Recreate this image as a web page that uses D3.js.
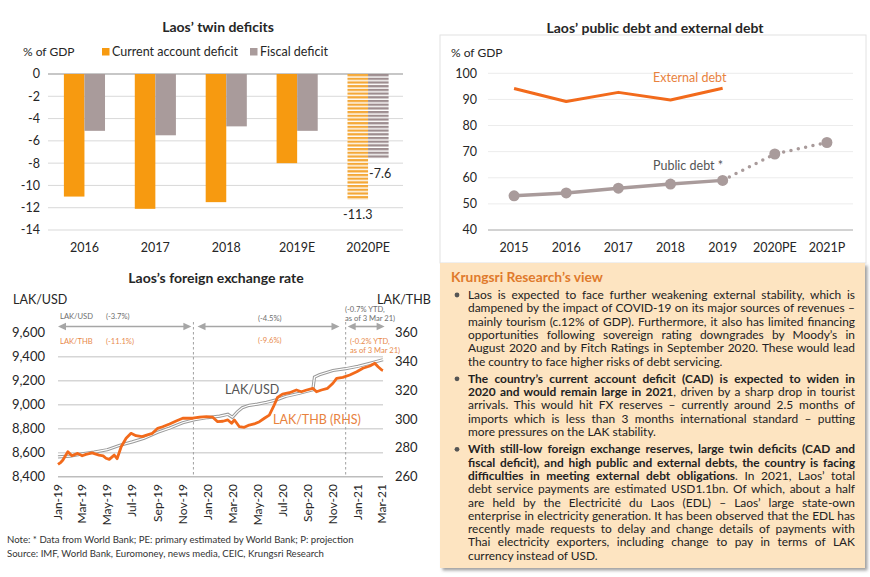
<!DOCTYPE html>
<html><head><meta charset="utf-8">
<script src="https://cdn.jsdelivr.net/npm/d3@7"></script>
<style>body{margin:0;background:#fff}svg{display:block}text{font-family:Lato,"Open Sans",sans-serif}</style>
</head><body><svg id="c" width="870" height="577"></svg>
<script>
// ---------- DATA ----------
const twinYears = ["2016","2017","2018","2019E","2020PE"];
const currentAccount = [-11.0,-12.1,-11.5,-8.0,-11.3];
const fiscalDeficit = [-5.1,-5.5,-4.7,-5.1,-7.6];
const twinTicks = [0,-2,-4,-6,-8,-10,-12,-14];

const debtYears = ["2015","2016","2017","2018","2019","2020PE","2021P"];
const externalDebt = [94.2,89.2,92.7,89.8,94.3];
const publicDebt = [53.1,54.2,56.0,57.6,59.0,69.1,73.5];
const debtTicks = [40,50,60,70,80,90,100];

const usdDates = ["2019-01-01","2019-01-30","2019-03-01","2019-03-30","2019-05-01","2019-05-30","2019-07-01","2019-07-30","2019-09-01","2019-09-30","2019-11-01","2019-11-30","2020-01-01","2020-01-30","2020-02-19","2020-03-01","2020-03-13","2020-03-25","2020-04-11","2020-05-01","2020-05-23","2020-06-16","2020-07-10","2020-08-11","2020-09-13","2020-09-17","2020-09-29","2020-11-01","2020-12-02","2021-01-01","2021-01-30","2021-03-03"];
const usdValues = [8565,8572,8590,8605,8625,8660,8690,8720,8770,8805,8850,8875,8893,8905,8920,8895,8940,8975,8995,9005,9020,9040,9070,9095,9125,9230,9250,9285,9300,9320,9345,9375];

const thbDates = ["2019-01-01","2019-01-08","2019-01-13","2019-01-25","2019-02-04","2019-02-18","2019-03-01","2019-03-10","2019-03-25","2019-04-11","2019-04-21","2019-04-28","2019-05-06","2019-05-18","2019-05-25","2019-06-04","2019-06-16","2019-06-28","2019-07-10","2019-07-25","2019-08-07","2019-08-19","2019-09-01","2019-09-13","2019-09-30","2019-10-16","2019-11-01","2019-11-25","2019-12-12","2019-12-29","2020-01-13","2020-01-25","2020-02-07","2020-02-19","2020-02-28","2020-03-06","2020-03-18","2020-03-30","2020-04-11","2020-04-23","2020-05-06","2020-05-18","2020-05-30","2020-06-09","2020-06-19","2020-07-01","2020-07-18","2020-08-04","2020-08-16","2020-08-29","2020-09-13","2020-09-22","2020-10-04","2020-10-19","2020-11-01","2020-11-10","2020-11-25","2020-12-12","2020-12-29","2021-01-13","2021-01-30","2021-02-11","2021-02-19","2021-02-28","2021-03-03"];
const thbValues = [268.5,270.0,271.6,277.4,274.5,276.2,274.5,275.5,276.5,275.0,274.5,272.8,272.0,275.0,272.5,280.8,286.7,290.1,288.5,287.8,289.0,290.1,293.6,294.7,296.6,298.7,300.6,300.6,301.3,301.7,301.3,298.2,298.5,299.4,297.1,299.4,294.7,294.3,295.9,296.6,298.2,300.6,302.8,308.6,315.1,317.4,318.3,320.2,319.0,320.2,321.4,319.0,320.2,321.4,324.9,328.3,329.0,330.6,332.9,335.3,336.9,338.8,336.4,334.1,333.8];
const fxLeftTicks = [8400,8600,8800,9000,9200,9400,9600];
const fxRightTicks = [260,280,300,320,340,360];

// ---------- SETUP ----------
const svg = d3.select("#c");
const defs = svg.append("defs");
const ORANGE = "#f79a10", TAUPE = "#a99b9b", DARK = "#262626";
function stripe(id, color){
  const p = defs.append("pattern").attr("id",id).attr("patternUnits","userSpaceOnUse").attr("width",6).attr("height",3.7);
  p.append("rect").attr("width",6).attr("height",3.7).attr("fill","#fff");
  p.append("rect").attr("width",6).attr("height",2.3).attr("fill",color);
}
stripe("stO","#f4a838"); stripe("stG","#9d8d8f");
const sh = defs.append("filter").attr("id","sh").attr("x","-5%").attr("y","-5%").attr("width","115%").attr("height","115%");
sh.append("feDropShadow").attr("dx",2.5).attr("dy",2.5).attr("stdDeviation",1.5).attr("flood-color","#7a7a7a").attr("flood-opacity",0.7);

// ---------- PANEL 1: twin deficits ----------
const g1 = svg.append("g");
const xT = d3.scaleBand().domain(twinYears).range([49,403.5]).paddingInner(0.42).paddingOuter(0.21);
const xS = d3.scaleBand().domain(["ca","fd"]).range([0,xT.bandwidth()]);
const yT = d3.scaleLinear().domain([-14,0]).range([230,74]);
g1.append("text").attr("x",218).attr("y",27).attr("dy","0.35em").attr("text-anchor","middle")
  .attr("font-size",14).attr("font-weight","bold").attr("fill",DARK).text("Laos’ twin deficits");
g1.append("text").attr("x",23).attr("y",52).attr("dy","0.35em").attr("font-size",12).attr("fill",DARK).text("% of GDP");
g1.append("rect").attr("x",102).attr("y",48).attr("width",7.5).attr("height",7.5).attr("fill",ORANGE);
g1.append("text").attr("x",112).attr("y",52).attr("dy","0.35em").attr("font-size",12.5).attr("fill",DARK).text("Current account deficit");
g1.append("rect").attr("x",250).attr("y",48).attr("width",7.5).attr("height",7.5).attr("fill",TAUPE);
g1.append("text").attr("x",260).attr("y",52).attr("dy","0.35em").attr("font-size",12.5).attr("fill",DARK).text("Fiscal deficit");
g1.selectAll("line.g").data(twinTicks).join("line").attr("class","g")
  .attr("x1",48).attr("x2",403).attr("y1",d=>yT(d)).attr("y2",d=>yT(d))
  .attr("stroke",d=>d===0?"#8f8f8f":"#d9d9d9").attr("stroke-width",1);
g1.selectAll("text.yt").data(twinTicks).join("text").attr("class","yt")
  .attr("x",40).attr("y",d=>yT(d)).attr("dy","0.35em").attr("text-anchor","end").attr("font-size",12.5).attr("fill",DARK).text(d=>String(d));
g1.selectAll("text.xt").data(twinYears).join("text").attr("class","xt")
  .attr("x",d=>xT(d)+xT.bandwidth()/2).attr("y",248).attr("dy","0.35em").attr("text-anchor","middle").attr("font-size",12.5).attr("fill",DARK).text(d=>d);
const twinRows = twinYears.map((y,i)=>({y, ca:currentAccount[i], fd:fiscalDeficit[i], last:i===twinYears.length-1}));
g1.selectAll("rect.ca").data(twinRows).join("rect").attr("class","ca")
  .attr("x",d=>xT(d.y)+xS("ca")).attr("width",xS.bandwidth()).attr("y",yT(0)).attr("height",d=>yT(d.ca)-yT(0))
  .attr("fill",d=>d.last?"url(#stO)":ORANGE);
g1.selectAll("rect.fd").data(twinRows).join("rect").attr("class","fd")
  .attr("x",d=>xT(d.y)+xS("fd")).attr("width",xS.bandwidth()).attr("y",yT(0)).attr("height",d=>yT(d.fd)-yT(0))
  .attr("fill",d=>d.last?"url(#stG)":TAUPE);
const lastR = twinRows[twinRows.length-1];
g1.append("text").attr("x",xT(lastR.y)+xS("fd")+1).attr("y",yT(lastR.fd)+15).attr("dy","0.35em").attr("font-size",12.5).attr("fill",DARK).text(String(lastR.fd));
g1.append("text").attr("x",xT(lastR.y)+xS("ca")+xS.bandwidth()/2).attr("y",yT(lastR.ca)+15).attr("dy","0.35em").attr("text-anchor","middle").attr("font-size",12.5).attr("fill",DARK).text(String(lastR.ca));

// ---------- PANEL 2: debt ----------
const g2 = svg.append("g");
g2.append("rect").attr("x",440).attr("y",35).attr("width",426).attr("height",228).attr("fill","none").attr("stroke","#e2e2e2");
const xD = d3.scalePoint().domain(debtYears).range([488,853]).padding(0.5);
const yD = d3.scaleLinear().domain([40,100]).range([230,73.3]);
g2.append("text").attr("x",655).attr("y",28).attr("dy","0.35em").attr("text-anchor","middle")
  .attr("font-size",14).attr("font-weight","bold").attr("fill",DARK).text("Laos’ public debt and external debt");
g2.append("text").attr("x",451).attr("y",53).attr("dy","0.35em").attr("font-size",12).attr("fill",DARK).text("% of GDP");
g2.selectAll("line.g").data(debtTicks).join("line").attr("class","g")
  .attr("x1",488).attr("x2",853).attr("y1",d=>yD(d)).attr("y2",d=>yD(d))
  .attr("stroke",d=>d===40?"#a6a6a6":"#ececec").attr("stroke-width",1);
g2.selectAll("text.yt").data(debtTicks).join("text").attr("class","yt")
  .attr("x",477).attr("y",d=>yD(d)).attr("dy","0.35em").attr("text-anchor","end").attr("font-size",12.5).attr("fill",DARK).text(d=>d);
g2.selectAll("text.xt").data(debtYears).join("text").attr("class","xt")
  .attr("x",d=>xD(d)).attr("y",248).attr("dy","0.35em").attr("text-anchor","middle").attr("font-size",12.5).attr("fill",DARK).text(d=>d);
const extPts = externalDebt.map((v,i)=>[xD(debtYears[i]),yD(v)]);
const pubPts = publicDebt.map((v,i)=>[xD(debtYears[i]),yD(v)]);
const ln = d3.line();
g2.append("path").attr("d",ln(extPts)).attr("fill","none").attr("stroke","#f26a1b").attr("stroke-width",3).attr("stroke-linejoin","round");
g2.append("path").attr("d",ln(pubPts.slice(0,5))).attr("fill","none").attr("stroke",TAUPE).attr("stroke-width",3.5);
g2.append("path").attr("d",ln(pubPts.slice(4))).attr("fill","none").attr("stroke",TAUPE).attr("stroke-width",3.5)
  .attr("stroke-dasharray","0 7.5").attr("stroke-linecap","round");
g2.selectAll("circle.p").data(pubPts).join("circle").attr("class","p").attr("cx",d=>d[0]).attr("cy",d=>d[1]).attr("r",5.5).attr("fill",TAUPE);
g2.append("text").attr("x",653).attr("y",78).attr("dy","0.35em").attr("font-size",12.5).attr("fill","#e8823e").text("External debt");
g2.append("text").attr("x",653).attr("y",166).attr("dy","0.35em").attr("font-size",12.5).attr("fill","#555").text("Public debt *");

// ---------- PANEL 3: FX ----------
const g3 = svg.append("g");
const parse = d3.timeParse("%Y-%m-%d");
const xF = d3.scaleTime().domain([parse("2019-01-01"),parse("2021-03-03")]).range([58,383]);
const yL = d3.scaleLinear().domain([8400,9600]).range([476.7,332.7]);
const yR = d3.scaleLinear().domain([260,360]).range([476.7,332.7]);
g3.append("text").attr("x",216).attr("y",278).attr("dy","0.35em").attr("text-anchor","middle")
  .attr("font-size",14).attr("font-weight","bold").attr("fill",DARK).text("Laos’s foreign exchange rate");
g3.append("text").attr("x",13).attr("y",300).attr("dy","0.35em").attr("font-size",12.5).attr("fill",DARK).text("LAK/USD");
g3.append("text").attr("x",377).attr("y",300).attr("dy","0.35em").attr("font-size",12.5).attr("fill",DARK).text("LAK/THB");
g3.selectAll("line.g").data(fxLeftTicks.filter(d=>d<9600)).join("line").attr("class","g")
  .attr("x1",58).attr("x2",383).attr("y1",d=>yL(d)).attr("y2",d=>yL(d))
  .attr("stroke",d=>d===8400?"#bdbdbd":"#d6d6d6").attr("stroke-width",1.6);
g3.selectAll("text.yl").data(fxLeftTicks).join("text").attr("class","yl")
  .attr("x",45).attr("y",d=>yL(d)).attr("dy","0.35em").attr("text-anchor","end").attr("font-size",13).attr("fill",DARK).text(d=>d3.format(",")(d));
g3.selectAll("text.yr").data(fxRightTicks).join("text").attr("class","yr")
  .attr("x",395).attr("y",d=>yR(d)).attr("dy","0.35em").attr("font-size",13).attr("fill",DARK).text(d=>d);
const xTicks = d3.timeMonth.every(2).range(parse("2019-01-01"),parse("2021-03-02"));
g3.selectAll("text.xt").data(xTicks).join("text").attr("class","xt")
  .attr("transform",d=>`translate(${xF(d)},484) rotate(-90)`).attr("dy","0.35em").attr("text-anchor","end")
  .attr("font-size",12).attr("fill",DARK).text(d=>d3.timeFormat("%b-%y")(d));
// period separators
["2019-11-27","2020-12-02"].forEach(s=>{
  g3.append("line").attr("x1",xF(parse(s))).attr("x2",xF(parse(s))).attr("y1",322).attr("y2",476)
    .attr("stroke","#a0a0a0").attr("stroke-width",1).attr("stroke-dasharray","2.5 2.5");
});
// arrows
const AR = "#a6a6a6";
[["2019-01-01","2019-11-22"],["2019-12-07","2020-11-17"],["2020-12-07","2021-03-07"]].forEach(([a,b])=>{
  const x1=xF(parse(a)), x2=xF(parse(b)), y=326.5;
  g3.append("line").attr("x1",x1+6).attr("x2",x2-6).attr("y1",y).attr("y2",y).attr("stroke",AR).attr("stroke-width",1.6);
  g3.append("path").attr("d",`M${x1},${y}L${x1+8},${y-3.8}L${x1+8},${y+3.8}Z`).attr("fill",AR);
  g3.append("path").attr("d",`M${x2},${y}L${x2-8},${y-3.8}L${x2-8},${y+3.8}Z`).attr("fill",AR);
});
const GT="#6e6e6e", OT="#e88a4c";
function small(x,y,t,c){ g3.append("text").attr("x",x).attr("y",y).attr("dy","0.35em").attr("font-size",7.6).attr("fill",c).text(t); }
small(60,316.5,"LAK/USD",GT); small(106,316.5,"(-3.7%)",GT);
small(60,341,"LAK/THB",OT); small(106,341,"(-11.1%)",OT);
small(258,318.5,"(-4.5%)",GT); small(258,340.5,"(-9.6%)",OT);
small(345,309,"(-0.7% YTD,",GT); small(345,318,"as of 3 Mar 21)",GT);
small(350,341,"(-0.2% YTD,",OT); small(350,350,"as of 3 Mar 21)",OT);
// lines
const usdPts = usdDates.map((d,i)=>[xF(parse(d)),yL(usdValues[i])]);
const thbPts = thbDates.map((d,i)=>[xF(parse(d)),yR(thbValues[i])]);
g3.append("path").attr("d",ln(usdPts)).attr("fill","none").attr("stroke","#9a9a9a").attr("stroke-width",3.2);
g3.append("path").attr("d",ln(usdPts)).attr("fill","none").attr("stroke","#fff").attr("stroke-width",1.2);
g3.append("path").attr("d",ln(thbPts)).attr("fill","none").attr("stroke","#f26a1b").attr("stroke-width",2.8).attr("stroke-linejoin","round");
g3.append("text").attr("x",225).attr("y",390).attr("dy","0.35em").attr("font-size",12.5).attr("fill","#555").text("LAK/USD");
g3.append("text").attr("x",273).attr("y",420).attr("dy","0.35em").attr("font-size",12.5).attr("fill","#e8823e").text("LAK/THB (RHS)");

// notes
svg.append("text").attr("x",7).attr("y",540).attr("dy","0.35em").attr("font-size",9.6).attr("fill","#333")
  .text("Note: * Data from World Bank; PE: primary estimated by World Bank; P: projection");
svg.append("text").attr("x",7).attr("y",553.5).attr("dy","0.35em").attr("font-size",9.6).attr("fill","#333")
  .text("Source: IMF, World Bank, Euromoney, news media, CEIC, Krungsri Research");

// ---------- TEXT BOX ----------
const g4 = svg.append("g");
g4.append("rect").attr("x",440).attr("y",263).attr("width",425).attr("height",305).attr("fill","#fde4c1").attr("filter","url(#sh)");
g4.append("text").attr("x",451).attr("y",277).attr("dy","0.35em").attr("font-size",13.8).attr("font-weight","bold").attr("fill","#e07a2c").text("Krungsri Research’s view");
const bullets = [
 [[["n","Laos is expected to face further weakening external stability, which is"]],
  [["n","dampened by the impact of COVID-19 on its major sources of revenues –"]],
  [["n","mainly tourism (c.12% of GDP). Furthermore, it also has limited financing"]],
  [["n","opportunities following sovereign rating downgrades by Moody’s in"]],
  [["n","August 2020 and by Fitch Ratings in September 2020. These would lead"]],
  [["n","the country to face higher risks of debt servicing."]]],
 [[["b","The country’s current account deficit (CAD) is expected to widen in"]],
  [["b","2020 and would remain large in 2021"],["n",", driven by a sharp drop in tourist"]],
  [["n","arrivals. This would hit FX reserves – currently around 2.5 months of"]],
  [["n","imports which is less than 3 months international standard – putting"]],
  [["n","more pressures on the LAK stability."]]],
 [[["b","With still-low foreign exchange reserves, large twin deficits (CAD and"]],
  [["b","fiscal deficit), and high public and external debts, the country is facing"]],
  [["b","difficulties in meeting external debt obligations"],["n",". In 2021, Laos’ total"]],
  [["n","debt service payments are estimated USD1.1bn. Of which, about a half"]],
  [["n","are held by the Electricité du Laos (EDL) – Laos’ large state-own"]],
  [["n","enterprise in electricity generation. It has been observed that the EDL has"]],
  [["n","recently made requests to delay and change details of payments with"]],
  [["n","Thai electricity exporters, including change to pay in terms of LAK"]],
  [["n","currency instead of USD."]]]
];
const TX0 = 468, TW = 387, LH = 13.3, PG = 4;
let yy = 299;
const lineNodes = [];
bullets.forEach((b,bi)=>{
  g4.append("circle").attr("cx",457).attr("cy",yy-4).attr("r",2.4).attr("fill","#555");
  b.forEach((segs,li)=>{
    const t = g4.append("text").attr("x",TX0).attr("y",yy).attr("fill","#222").attr("font-size",12);
    segs.forEach(s=>t.append("tspan").attr("font-weight",s[0]==="b"?"bold":"normal").text(s[1]));
    lineNodes.push({t, str:segs.map(s=>s[1]).join(""), last: li===b.length-1});
    yy += LH;
  });
  yy += PG;
});
let maxLen = d3.max(lineNodes, d=>d.t.node().getComputedTextLength());
const fs = Math.min(12.5, 12*(TW-3)/maxLen);
lineNodes.forEach(d=>{
  d.t.attr("font-size",fs);
  if(!d.last){
    const len = d.t.node().getComputedTextLength();
    const n = (d.str.match(/ /g)||[]).length;
    if(n>0) d.t.attr("word-spacing",(TW-len)/n);
  }
});
</script></body></html>
